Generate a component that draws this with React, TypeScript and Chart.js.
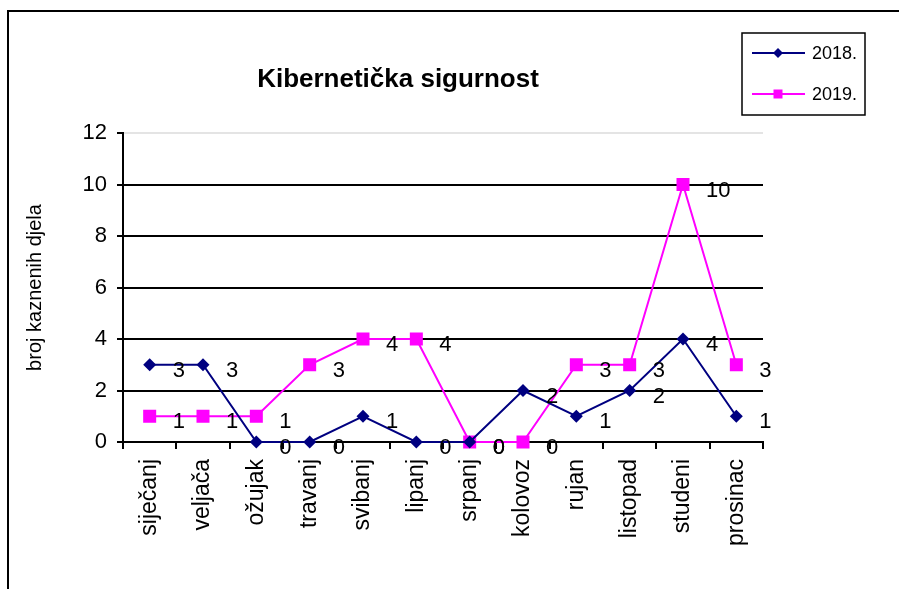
import React, { useEffect, useRef } from "react";
import { Chart, registerables } from "chart.js";

Chart.register(...registerables);

const months = ["siječanj", "veljača", "ožujak", "travanj", "svibanj", "lipanj", "srpanj", "kolovoz", "rujan", "listopad", "studeni", "prosinac"];
const values2018 = [3, 3, 0, 0, 1, 0, 0, 2, 1, 2, 4, 1];
const values2019 = [1, 1, 1, 3, 4, 4, 0, 0, 3, 3, 10, 3];
const titleText = "Kibernetička sigurnost";
const yAxisTitle = "broj kaznenih djela";
const seriesNames = ["2018.", "2019."];

const FONT = "'Liberation Sans', Arial, sans-serif";

const framePlugin = {
  id: "framePlugin",
  afterDraw(chart: any) {
    const ctx = chart.ctx;
    ctx.save();
    ctx.strokeStyle = "#000";
    ctx.lineWidth = 2;
    ctx.strokeRect(8, 11, 1200, 1200);
    // title
    ctx.fillStyle = "#000";
    ctx.font = `bold 26px ${FONT}`;
    ctx.textAlign = "center";
    ctx.textBaseline = "middle";
    ctx.fillText(titleText, 398, 80);
    // legend
    ctx.lineWidth = 1.5;
    ctx.strokeRect(742, 33, 123, 82);
    const rows = [53, 94];
    chart.data.datasets.forEach((ds: any, i: number) => {
      const y = rows[i];
      ctx.strokeStyle = ds.borderColor;
      ctx.lineWidth = 2;
      ctx.beginPath();
      ctx.moveTo(752, y);
      ctx.lineTo(805, y);
      ctx.stroke();
      ctx.fillStyle = ds.pointBackgroundColor;
      ctx.beginPath();
      if (ds.pointStyle === "rectRot") {
        const r = 5;
        ctx.moveTo(778, y - r);
        ctx.lineTo(778 + r, y);
        ctx.lineTo(778, y + r);
        ctx.lineTo(778 - r, y);
        ctx.closePath();
      } else {
        ctx.rect(778 - 4.5, y - 4.5, 9, 9);
      }
      ctx.fill();
      ctx.fillStyle = "#000";
      ctx.font = `18px ${FONT}`;
      ctx.textAlign = "left";
      ctx.textBaseline = "middle";
      ctx.fillText(ds.label, 812, y + 1);
    });
    ctx.restore();
  },
  afterDatasetsDraw(chart: any) {
    const ctx = chart.ctx;
    ctx.save();
    ctx.fillStyle = "#000";
    ctx.font = `22px ${FONT}`;
    ctx.textAlign = "left";
    ctx.textBaseline = "middle";
    chart.data.datasets.forEach((ds: any, i: number) => {
      const meta = chart.getDatasetMeta(i);
      meta.data.forEach((pt: any, j: number) => {
        ctx.fillText(String(ds.data[j]), pt.x + 23, pt.y + 6);
      });
    });
    ctx.restore();
  },
};

export default function App() {
  const canvasRef = useRef<HTMLCanvasElement | null>(null);

  useEffect(() => {
    if (!canvasRef.current) return;
    const chart = new Chart(canvasRef.current, {
      type: "line",
      data: {
        labels: months,
        datasets: [
          {
            label: seriesNames[0],
            data: values2018,
            borderColor: "#000080",
            backgroundColor: "#000080",
            pointBackgroundColor: "#000080",
            pointBorderColor: "#000080",
            borderWidth: 2,
            pointStyle: "rectRot",
            pointRadius: 6.5,
            pointBorderWidth: 0,
            tension: 0,
            clip: false,
          },
          {
            label: seriesNames[1],
            data: values2019,
            borderColor: "#FF00FF",
            backgroundColor: "#FF00FF",
            pointBackgroundColor: "#FF00FF",
            pointBorderColor: "#FF00FF",
            borderWidth: 2,
            pointStyle: "rect",
            pointRadius: 9.2,
            pointBorderWidth: 0,
            tension: 0,
            clip: false,
          },
        ],
      },
      options: {
        responsive: false,
        animation: false,
        layout: { padding: { left: 0, top: 133, right: 136, bottom: 0 } },
        plugins: {
          legend: { display: false },
          title: { display: false },
          tooltip: { enabled: false },
        },
        scales: {
          x: {
            type: "category",
            offset: true,
            grid: {
              display: true,
              offset: true,
              drawOnChartArea: false,
              drawTicks: true,
              tickLength: 7,
              color: "#000",
              lineWidth: 2,
            },
            border: { display: true, color: "#000", width: 2 },
            ticks: {
              color: "#000",
              font: { family: FONT, size: 23 },
              maxRotation: 90,
              minRotation: 90,
              padding: 10,
              autoSkip: false,
            },
            afterFit: (scale: any) => {
              scale.height = 147;
            },
          },
          y: {
            min: 0,
            max: 12,
            ticks: {
              stepSize: 2,
              color: "#000",
              font: { family: FONT, size: 22 },
              padding: 10,
            },
            grid: {
              color: (c: any) => (c.tick && c.tick.value === 12 ? "#e4e4e4" : "#000"),
              tickColor: "#000",
              lineWidth: 2,
              tickLength: 6,
              drawTicks: true,
            },
            border: { display: true, color: "#000", width: 2 },
            title: {
              display: true,
              text: yAxisTitle,
              color: "#000",
              font: { family: FONT, size: 20 },
              padding: { top: 23, bottom: 0 },
            },
            afterFit: (scale: any) => {
              scale.width = 123;
            },
          },
        },
      },
      plugins: [framePlugin],
    });
    return () => chart.destroy();
  }, []);

  return (
    <div style={{ position: "fixed", left: 0, top: 0, width: 899, height: 589, background: "#fff" }}>
      <canvas ref={canvasRef} width={899} height={589} style={{ display: "block" }} />
    </div>
  );
}
